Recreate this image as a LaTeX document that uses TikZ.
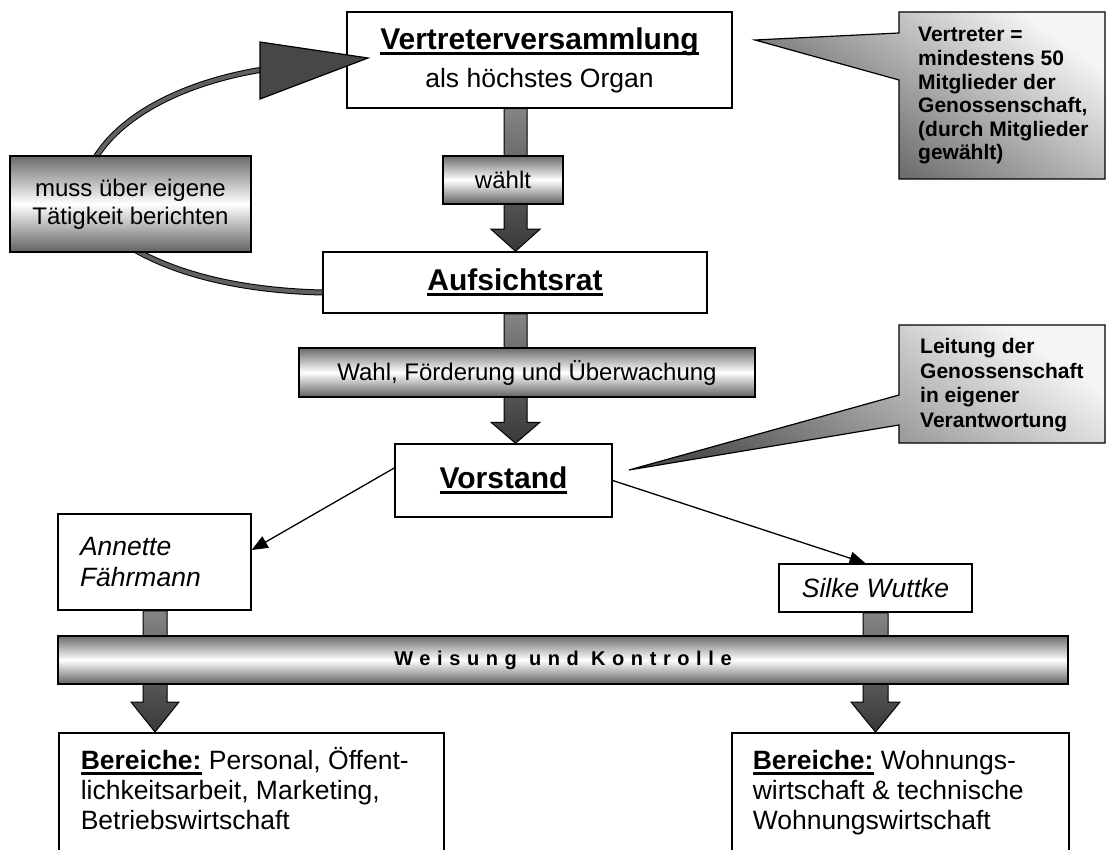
\documentclass[tikz,border=0pt]{standalone}
\usepackage{fontspec}
\setmainfont{Liberation Sans}
\newfontfamily\barfont[LetterSpace=33]{Liberation Sans Bold}
\usetikzlibrary{arrows.meta,calc}
\newcommand\myul[1]{\setbox0\hbox{#1}\rlap{\copy0}\rule[-0.2em]{\wd0}{0.1em}}
\newcommand\fsz[2]{\fontsize{#1}{#2}\selectfont}
\begin{document}
\begin{tikzpicture}[x=1pt,y=-1pt,
  box/.style={draw=black, line width=1.5, fill=white, inner sep=0, align=center},
  gbox/.style={draw=black, line width=1.5, top color=black!58, bottom color=black!62, middle color=white, inner sep=0, align=center},
  barrow/.style={draw=black, line width=1, top color=black!48, bottom color=black!78},
  callout/.style={draw=black, line width=1.2, top color=black!4, bottom color=black!68, shading angle=-35},
  thinarrow/.style={line width=1.3, -{Triangle[length=16pt,width=13pt]}},
  curvestyle/.style={draw=black, line width=1, double=black!62, double distance=4},
  ]
\useasboundingbox (0,0) rectangle (1107,850);
\clip (0,0) rectangle (1107,850);

% main boxes
\node[box, minimum width=385, minimum height=96, font=\fsz{30}{34}] (vv) at (539.5,60)
  {{\bfseries\myul{Vertreterversammlung}}\\[4pt]{\fsz{26.5}{30}als höchstes Organ}};
\node[box, minimum width=384, minimum height=61, font=\fsz{30}{34}\bfseries] (ar) at (515,282.5)
  {\myul{Aufsichtsrat}};
\node[box, minimum width=217, minimum height=73, font=\fsz{30}{34}\bfseries] (vs) at (503.5,480.5)
  {\myul{Vorstand}};
\node[box, minimum width=193, minimum height=96, text width=149, align=left, font=\fsz{26.5}{31}\itshape] (an) at (154.5,562)
  {Annette\\Fährmann};
\node[box, minimum width=193, minimum height=48, font=\fsz{26.5}{30}\itshape] (sw) at (875.5,588)
  {Silke Wuttke};
\node[box, anchor=north west, minimum width=385, inner xsep=22, inner ysep=0] (b1) at (58,732)
  {\parbox[c][150pt][t]{341pt}{\raggedright\fsz{26.5}{30}\rule{0pt}{37pt}\textbf{\myul{Bereiche:}} Personal, Öffent-\\lichkeitsarbeit, Marketing,\\Betriebswirtschaft}};
\node[box, anchor=north west, minimum width=337, inner xsep=21, inner ysep=0] (b2) at (731,732)
  {\parbox[c][150pt][t]{295pt}{\raggedright\fsz{26.5}{30}\rule{0pt}{37pt}\textbf{\myul{Bereiche:}} Wohnungs-\\wirtschaft \& technische\\Wohnungswirtschaft}};

% report loop
\coordinate (tip) at (368,58);
\path[curvestyle] ([yshift=-10pt]ar.west) .. controls (220,290) and (130,265) .. (80,205)
  .. controls (85,130) and (170,85) .. (260,70);
\node[gbox, minimum width=241, minimum height=96, font=\fsz{24}{28}] (muss) at (130.5,204)
  {muss über eigene\\Tätigkeit berichten};
\path[fill=black!72, draw=black, line width=1.2] (260,42) -- (tip) -- (260,99) -- cycle;

% block arrows
\path[barrow] (vv.south -| 504,0) -- ([yshift=22pt]ar.north -| 504,0) -- ([yshift=22pt]ar.north -| 491,0)
  -- (ar.north -| 515.5,0) -- ([yshift=22pt]ar.north -| 540,0) -- ([yshift=22pt]ar.north -| 527,0)
  -- (vv.south -| 527,0) -- cycle;
\path[barrow] (ar.south -| 504,0) -- ([yshift=21pt]vs.north -| 504,0) -- ([yshift=21pt]vs.north -| 491,0)
  -- (vs.north -| 515.5,0) -- ([yshift=21pt]vs.north -| 540,0) -- ([yshift=21pt]vs.north -| 527,0)
  -- (ar.south -| 527,0) -- cycle;
\path[barrow] (an.south -| 143,0) -- ([yshift=30pt]b1.north -| 143,0) -- ([yshift=30pt]b1.north -| 131,0)
  -- (b1.north -| 155,0) -- ([yshift=30pt]b1.north -| 179,0) -- ([yshift=30pt]b1.north -| 167,0)
  -- (an.south -| 167,0) -- cycle;
\path[barrow] (sw.south -| 863,0) -- ([yshift=30pt]b2.north -| 863,0) -- ([yshift=30pt]b2.north -| 851,0)
  -- (b2.north -| 875.5,0) -- ([yshift=30pt]b2.north -| 900,0) -- ([yshift=30pt]b2.north -| 888,0)
  -- (sw.south -| 888,0) -- cycle;

% labels on arrows
\node[gbox, minimum width=120, minimum height=48, font=\fsz{24}{28}] (waehlt) at (503,180) {wählt};
\node[gbox, minimum width=456, minimum height=49, font=\fsz{24}{28}] (wahl) at (527,372.5) {Wahl, Förderung und Überwachung};
\node[gbox, minimum width=1010, minimum height=48, font=\barfont\fsz{20}{23}] (bar) at (563,660)
  {Weisung und Kontrolle};

% thin arrows
\draw[thinarrow] ([yshift=12.5pt]vs.west) -- ([yshift=12pt]an.east);
\draw[thinarrow] (vs.east) -- ([xshift=-10pt]sw.north);

% callouts
\path[callout] (899,12) -- (1105,12) -- (1105,179) -- (899,179) -- (899,80) -- (755,40) -- (899,33) -- cycle;
\node[anchor=west, align=left, inner sep=0, font=\fsz{21}{23.6}\bfseries] (c1) at (918,96)
  {Vertreter =\\mindestens 50\\Mitglieder der\\Genossenschaft,\\(durch Mitglieder\\gewählt)};
\path[callout] (899,325) -- (1105,325) -- (1105,443) -- (899,443) -- (899,425) -- (629,470) -- (899,395) -- cycle;
\node[anchor=west, align=left, inner sep=0, font=\fsz{21}{24.7}\bfseries] (c2) at (920,385)
  {Leitung der\\Genossenschaft\\in eigener\\Verantwortung};
\end{tikzpicture}
\end{document}
